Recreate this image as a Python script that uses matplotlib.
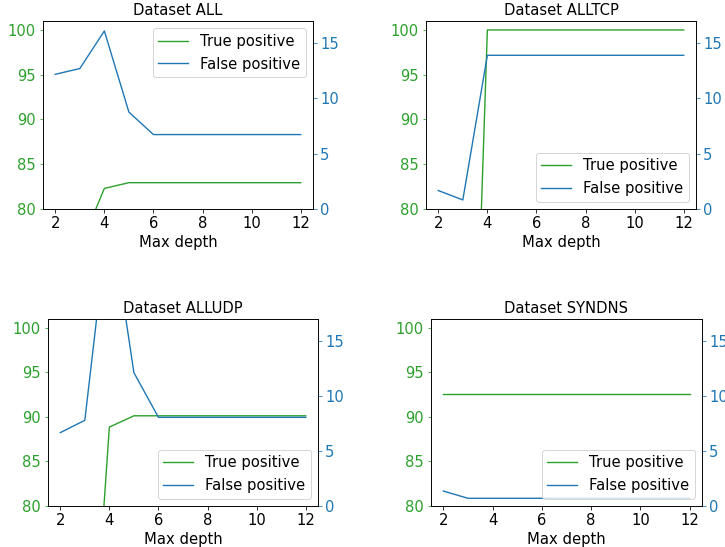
import matplotlib
matplotlib.use('Agg')
import matplotlib.pyplot as plt

depth = [2, 3, 4, 5, 6, 7, 8, 9, 10, 11, 12]

datasets = ['ALL', 'ALLTCP', 'ALLUDP', 'SYNDNS']

tp_all = [70.0, 75.7, 82.3, 82.94, 82.94, 82.94, 82.94, 82.94, 82.94, 82.94, 82.94]
fp_all = [12.18, 12.7, 16.1, 8.76, 6.73, 6.73, 6.73, 6.73, 6.73, 6.73, 6.73]

tp_tcp = [17.7, 17.7, 100.0, 100.0, 100.0, 100.0, 100.0, 100.0, 100.0, 100.0, 100.0]
fp_tcp = [1.67, 0.82, 13.9, 13.9, 13.9, 13.9, 13.9, 13.9, 13.9, 13.9, 13.9]

tp_udp = [45.0, 48.8, 88.86, 90.13, 90.13, 90.13, 90.13, 90.13, 90.13, 90.13, 90.13]
fp_udp = [6.67, 7.79, 27.0, 12.12, 8.06, 8.06, 8.06, 8.06, 8.06, 8.06, 8.06]

tp_syn = [92.56] * 11
fp_syn = [1.36, 0.7, 0.7, 0.7, 0.7, 0.7, 0.7, 0.7, 0.7, 0.7, 0.7]

tp_list = [tp_all, tp_tcp, tp_udp, tp_syn]
fp_list = [fp_all, fp_tcp, fp_udp, fp_syn]
legend_loc = ['upper right', 'lower right', 'lower right', 'lower right']

W, H = 725, 547
# axes boxes in pixels: left, top, right, bottom
boxes = [(43, 21, 313, 209), (426, 21, 696, 209),
         (48, 319, 318, 506), (431, 319, 702, 506)]

# the original looks like a 72 dpi render, so shrink point sizes for 100 dpi
s = 0.72
plt.rcParams.update({
    'font.size': 14.7 * s,
    'axes.linewidth': 0.8 * s,
    'xtick.major.size': 3.5 * s, 'ytick.major.size': 3.5 * s,
    'xtick.major.width': 0.8 * s, 'ytick.major.width': 0.8 * s,
    'xtick.major.pad': 3.5 * s, 'ytick.major.pad': 3.5 * s,
    'legend.fontsize': 14.7 * s,
    'patch.linewidth': 1.0 * s,
})

fig = plt.figure(figsize=(W / 100, H / 100), dpi=100)

for i, name in enumerate(datasets):
    l, t, r, b = boxes[i]
    ax = fig.add_axes([l / W, 1 - b / H, (r - l) / W, (b - t) / H])
    ax2 = ax.twinx()
    h1, = ax.plot(depth, tp_list[i], color='tab:green', linewidth=1.0, label='True positive')
    h2, = ax2.plot(depth, fp_list[i], color='tab:blue', linewidth=1.0, label='False positive')
    ax.set_ylim(80, 101)
    ax2.set_ylim(0, 17)
    ax.set_xlim(1.5, 12.5)
    ax.set_xticks([2, 4, 6, 8, 10, 12])
    ax.set_yticks([80, 85, 90, 95, 100])
    ax2.set_yticks([0, 5, 10, 15])
    ax.tick_params(axis='y', colors='tab:green')
    ax2.tick_params(axis='y', colors='tab:blue')
    ax.set_xlabel('Max depth', labelpad=4 * s)
    ax.set_title('Dataset ' + name, fontsize=14.7 * s, pad=6 * s)
    ax2.legend(handles=[h1, h2], loc=legend_loc[i])

plt.savefig('out.png', dpi=100)
